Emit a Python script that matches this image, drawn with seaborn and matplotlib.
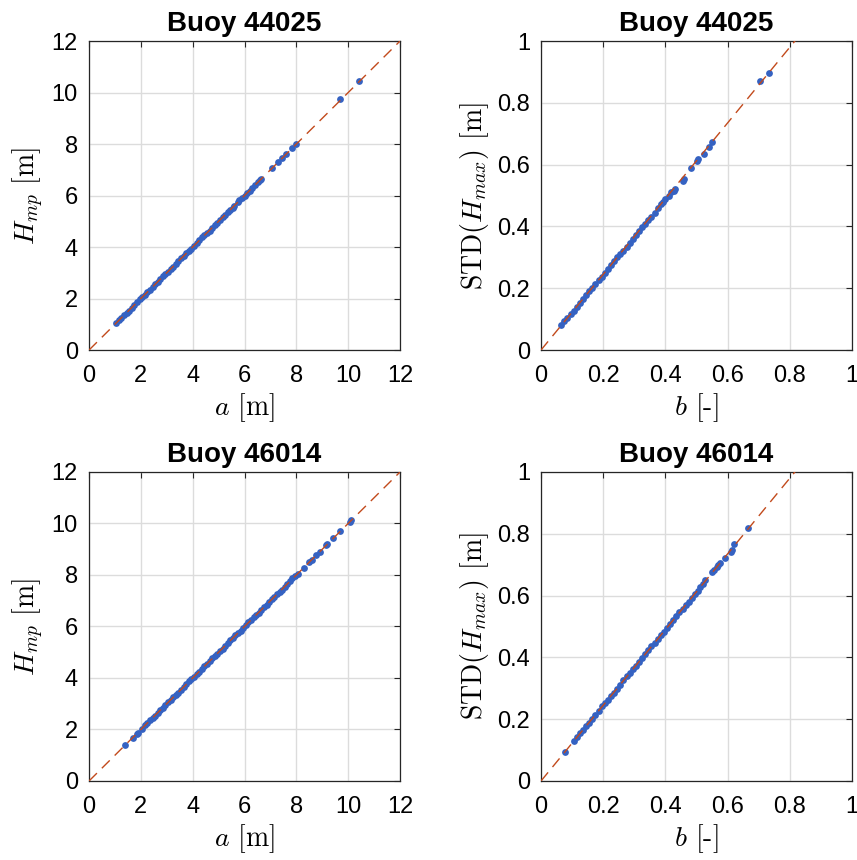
import matplotlib
matplotlib.use("Agg")
import matplotlib.pyplot as plt
import seaborn as sns

# ---- data ----
buoy_top = "Buoy 44025"
buoy_bot = "Buoy 46014"

# Buoy 44025: a vs H_mp
a_44025 = [1.05, 1.15, 1.25, 1.35, 1.45, 1.55, 1.65, 1.75, 1.85, 1.95,
           2.05, 2.15, 2.25, 2.35, 2.45, 2.55, 2.65, 2.75, 2.85, 2.95,
           3.05, 3.15, 3.25, 3.35, 3.45, 3.55, 3.65, 3.75, 3.85, 3.95,
           4.05, 4.15, 4.25, 4.35, 4.45, 4.55, 4.65, 4.75, 4.85, 4.95,
           5.05, 5.15, 5.25, 5.35, 5.45, 5.55, 5.60,
           5.75, 5.80, 5.90, 6.00, 6.10, 6.20, 6.30, 6.40, 6.50, 6.60, 6.65,
           7.05, 7.30, 7.45, 7.60, 7.85, 8.00, 9.70, 10.40]
hmp_44025 = [1.06, 1.17, 1.26, 1.35, 1.44, 1.53, 1.64, 1.75, 1.86, 1.97,
             2.06, 2.15, 2.24, 2.33, 2.44, 2.55, 2.66, 2.77, 2.86, 2.95,
             3.04, 3.13, 3.24, 3.35, 3.46, 3.57, 3.66, 3.75, 3.84, 3.93,
             4.04, 4.15, 4.26, 4.37, 4.46, 4.55, 4.64, 4.73, 4.84, 4.95,
             5.06, 5.17, 5.26, 5.35, 5.44, 5.53, 5.60,
             5.76, 5.81, 5.90, 6.00, 6.09, 6.19, 6.30, 6.40, 6.51, 6.61, 6.65,
             7.05, 7.30, 7.45, 7.60, 7.85, 8.00, 9.75, 10.45]

# Buoy 44025: b vs STD(H_max)
b_44025 = [0.065, 0.075, 0.085, 0.095, 0.105, 0.115, 0.125, 0.135, 0.145, 0.155,
           0.165, 0.175, 0.185, 0.195, 0.205, 0.215, 0.225, 0.235, 0.245, 0.255,
           0.265, 0.275, 0.285, 0.295, 0.305, 0.315, 0.325, 0.335, 0.345, 0.355,
           0.365, 0.375, 0.385,
           0.393, 0.400, 0.410, 0.418, 0.426, 0.430, 0.455, 0.460, 0.483, 0.501,
           0.505, 0.525, 0.539, 0.549, 0.705, 0.732]
std_44025 = [0.082, 0.094, 0.105, 0.116, 0.127, 0.138, 0.152, 0.165, 0.178, 0.191,
             0.202, 0.214, 0.225, 0.236, 0.249, 0.262, 0.276, 0.289, 0.300, 0.311,
             0.322, 0.334, 0.347, 0.360, 0.373, 0.386, 0.398, 0.409, 0.420, 0.431,
             0.444, 0.458, 0.471,
             0.480, 0.490, 0.500, 0.510, 0.516, 0.522, 0.548, 0.555, 0.588, 0.612,
             0.618, 0.634, 0.656, 0.674, 0.871, 0.898]

# Buoy 46014: a vs H_mp
a_46014 = [1.40, 1.70, 1.85, 1.90, 2.05,
           2.15, 2.25, 2.35, 2.45, 2.55, 2.65, 2.75, 2.85, 2.95, 3.05,
           3.15, 3.25, 3.35, 3.45, 3.55, 3.65, 3.75, 3.85, 3.95, 4.05,
           4.15, 4.25, 4.35, 4.45, 4.55, 4.65, 4.75, 4.85, 4.95, 5.05,
           5.15, 5.25, 5.35, 5.45, 5.55, 5.65, 5.75, 5.85, 5.95, 6.05,
           6.15, 6.25, 6.35, 6.45, 6.55, 6.65, 6.75, 6.85, 6.95, 7.05,
           7.15, 7.25, 7.35, 7.45, 7.55, 7.65, 7.75, 7.85, 7.95, 8.05,
           8.30, 8.50, 8.60, 8.75, 8.90, 9.15, 9.20, 9.40, 9.70, 10.05, 10.10]
hmp_46014 = [1.38, 1.68, 1.84, 1.88, 2.03,
             2.16, 2.27, 2.36, 2.45, 2.54, 2.63, 2.74, 2.85, 2.96, 3.07,
             3.16, 3.25, 3.34, 3.43, 3.54, 3.65, 3.76, 3.87, 3.96, 4.05,
             4.14, 4.23, 4.34, 4.45, 4.56, 4.67, 4.76, 4.85, 4.94, 5.03,
             5.14, 5.25, 5.36, 5.47, 5.56, 5.65, 5.74, 5.83, 5.94, 6.05,
             6.16, 6.27, 6.36, 6.45, 6.54, 6.63, 6.74, 6.85, 6.96, 7.07,
             7.16, 7.25, 7.34, 7.43, 7.54, 7.65, 7.76, 7.87, 7.96, 8.05,
             8.28, 8.50, 8.60, 8.78, 8.90, 9.15, 9.20, 9.42, 9.70, 10.05, 10.12]

# Buoy 46014: b vs STD(H_max)
b_46014 = [0.077,
           0.105, 0.115, 0.125, 0.135, 0.145, 0.155, 0.165, 0.175, 0.185, 0.195,
           0.205, 0.215, 0.225, 0.235, 0.245, 0.255, 0.265, 0.275, 0.285, 0.295,
           0.305, 0.315, 0.325, 0.335, 0.345, 0.355, 0.365, 0.375, 0.385, 0.395,
           0.405, 0.415, 0.425, 0.435, 0.445, 0.455, 0.465, 0.475, 0.485,
           0.495, 0.505, 0.512, 0.520, 0.528, 0.549, 0.555, 0.565, 0.570, 0.575,
           0.590, 0.610, 0.614, 0.622, 0.667]
std_46014 = [0.095,
             0.130, 0.143, 0.154, 0.165, 0.177, 0.188, 0.201, 0.214, 0.228, 0.241,
             0.252, 0.263, 0.275, 0.286, 0.299, 0.312, 0.326, 0.339, 0.350, 0.361,
             0.373, 0.384, 0.397, 0.410, 0.424, 0.437, 0.448, 0.459, 0.471, 0.482,
             0.495, 0.508, 0.522, 0.535, 0.546, 0.557, 0.569, 0.580, 0.593,
             0.606, 0.614, 0.628, 0.636, 0.650, 0.677, 0.682, 0.694, 0.700, 0.706,
             0.722, 0.742, 0.747, 0.768, 0.819]

# reference lines (end points)
line_a = [0, 12]
line_hmp = [0, 12]
line_b = [0, 1]
line_std = [0, 1.225]

# ---- style ----
sns.set_style("white")
plt.rcParams["font.family"] = ["Liberation Sans", "DejaVu Sans"]
plt.rcParams["mathtext.fontset"] = "cm"
plt.rcParams["axes.unicode_minus"] = False
plt.rcParams["text.color"] = "black"
plt.rcParams["axes.labelcolor"] = "black"

dot_col = "#3562c2"
line_col = "#c24a1c"

fig = plt.figure(figsize=(8.57, 8.60), dpi=100)
w, h = 0.3629, 0.3593
ax1 = fig.add_axes([0.1039, 0.5930, w, h])
ax2 = fig.add_axes([0.6313, 0.5930, w, h])
ax3 = fig.add_axes([0.1039, 0.0919, w, h])
ax4 = fig.add_axes([0.6313, 0.0919, w, h])

panels = [
    (ax1, a_44025, hmp_44025, line_a, line_hmp, buoy_top, "a"),
    (ax2, b_44025, std_44025, line_b, line_std, buoy_top, "b"),
    (ax3, a_46014, hmp_46014, line_a, line_hmp, buoy_bot, "a"),
    (ax4, b_46014, std_46014, line_b, line_std, buoy_bot, "b"),
]

for ax, xs, ys, lx, ly, title, kind in panels:
    sns.scatterplot(x=xs, y=ys, ax=ax, color=dot_col, s=24, linewidth=0, zorder=2)
    sns.lineplot(x=lx, y=ly, ax=ax, color=line_col, lw=1.0, zorder=3)
    ax.lines[-1].set_dashes((8, 5))
    if kind == "a":
        ax.set_xlim(0, 12)
        ax.set_ylim(0, 12)
        ax.set_xticks(range(0, 13, 2))
        ax.set_yticks(range(0, 13, 2))
        ax.set_xlabel(r"$a$ [m]", fontfamily="cmr10", fontsize=20, labelpad=3)
        ax.set_ylabel(r"$H_{mp}$ [m]", fontfamily="cmr10", fontsize=20, labelpad=4)
    else:
        ax.set_xlim(0, 1)
        ax.set_ylim(0, 1)
        ticks = [0, 0.2, 0.4, 0.6, 0.8, 1]
        labels = ["0", "0.2", "0.4", "0.6", "0.8", "1"]
        ax.set_xticks(ticks)
        ax.set_xticklabels(labels)
        ax.set_yticks(ticks)
        ax.set_yticklabels(labels)
        ax.set_xlabel(r"$b$ [-]", fontfamily="cmr10", fontsize=20, labelpad=3)
        ax.set_ylabel(r"STD$(H_{max})$ [m]", fontfamily="cmr10", fontsize=20, labelpad=4)
    ax.set_title(title, fontsize=20, fontweight="bold", pad=7, color="black")
    ax.grid(True, color="#dcdcdc", lw=1.0, zorder=0)
    ax.set_axisbelow(True)
    for sp in ax.spines.values():
        sp.set_color("#262626")
        sp.set_linewidth(0.9)
        sp.set_visible(True)
    ax.tick_params(direction="in", top=True, right=True, length=4, width=0.8,
                   color="#262626", labelcolor="black", labelsize=17)
    ax.tick_params(axis="x", pad=11)
    ax.tick_params(axis="y", pad=8)

fig.savefig("out.png", dpi=100, facecolor="white")
